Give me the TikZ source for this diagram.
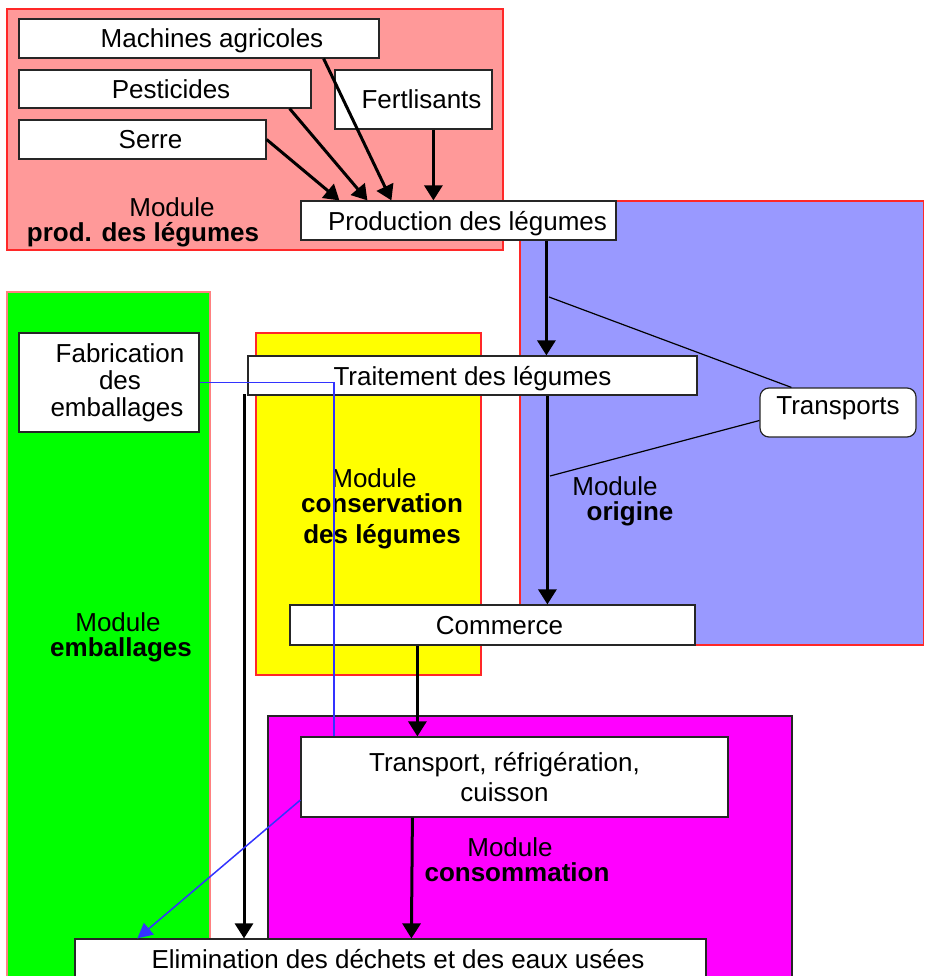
\documentclass[tikz,border=0pt]{standalone}
\usepackage{fontspec}
\setmainfont{Liberation Sans}
\usetikzlibrary{arrows.meta,calc}
\definecolor{pinkmod}{RGB}{255,153,153}
\definecolor{bluemod}{RGB}{153,153,255}
\definecolor{greenmod}{RGB}{0,255,0}
\definecolor{yellowmod}{RGB}{255,255,0}
\definecolor{magmod}{RGB}{255,0,255}
\definecolor{redline}{RGB}{255,40,40}
\definecolor{lightred}{RGB}{255,128,128}
\definecolor{bluelink}{RGB}{51,51,255}
\newcommand{\shx}[1]{\hspace*{#1}}
\begin{document}
\begin{tikzpicture}[x=1pt,y=-1pt,
  module/.style={line width=1.2pt},
  box/.style={draw=black!85, fill=white, line width=1.2pt, inner sep=0pt, align=center,
    font=\fontsize{26}{30}\selectfont},
  onebox/.style={box, text height=19pt, text depth=0pt},
  lbl/.style={inner sep=0pt, anchor=base, font=\fontsize{26}{30}\selectfont},
  blbl/.style={inner sep=0pt, anchor=base, font=\fontsize{26}{30}\selectfont\bfseries},
  arr/.style={line width=3pt, -{Triangle[length=15pt,width=18pt]}},
  thin/.style={line width=1.2pt},
  bluel/.style={draw=bluelink, line width=1.5pt}]
\useasboundingbox (0,0) rectangle (924,976);

% module backgrounds
\fill[pinkmod, draw=redline, module] (7,9) rectangle (503,250);
\fill[bluemod, draw=redline, module] (520,201) rectangle (923.5,645);
\fill[greenmod, draw=lightred, module] (7,292) rectangle (210,985);
\fill[yellowmod, draw=redline, module] (256,333) rectangle (481,675);
\fill[magmod, draw=black!85, module] (268,716) rectangle (792,985);

% module labels
\node[lbl] (lprod1) at (172,217) {Module};
\node[blbl] (lprod2) at (143,241) {prod. des légumes};
\node[lbl] (lorig1) at (615,495) {Module};
\node[blbl] (lorig2) at (630,520) {origine};
\node[lbl] (lcons1) at (374,487) {Module};
\node[blbl] (lcons2) at (382,512) {conservation};
\node[blbl] (lcons3) at (382,543) {des légumes};
\node[lbl] (lemb1) at (118,631) {Module};
\node[blbl] (lemb2) at (121,656) {emballages};
\node[lbl] (lcon1) at (510,856) {Module};
\node[blbl] (lcon2) at (517,881) {consommation};

% boxes
\node[onebox, minimum width=360pt, minimum height=39pt] (mach) at (199,38.5) {\shx{26pt}Machines agricoles};
\node[onebox, minimum width=292pt, minimum height=38pt] (pest) at (165,89) {\shx{12pt}Pesticides};
\node[onebox, minimum width=247pt, minimum height=39pt] (serre) at (142.5,139.5) {\shx{16pt}Serre};
\node[onebox, minimum width=157pt, minimum height=59pt] (fert) at (413.5,99.5) {\shx{16pt}Fertlisants};
\node[onebox, minimum width=315pt, minimum height=39pt] (prod) at (458.5,220.5) {\shx{18pt}Production des légumes};
\node[onebox, minimum width=449pt, minimum height=39pt] (trait) at (472.5,375.5) {Traitement des légumes};
\node[box, rounded corners=9pt, minimum width=156pt, minimum height=49pt, text height=19pt, text depth=16pt] (transports) at (838,412.5) {Transports};
\node[box, minimum width=180pt, minimum height=99pt, font=\fontsize{26}{27}\selectfont] (fab) at (109,382.5) {\shx{22pt}Fabrication\\\shx{22pt}des\\\shx{16pt}emballages};
\node[onebox, minimum width=405pt, minimum height=40pt] (comm) at (492.5,625) {\shx{14pt}Commerce};
\node[box, minimum width=427pt, minimum height=80pt] (transp) at (514.5,777) {\shx{-20pt}Transport, réfrigération,\\\shx{-20pt}cuisson};
\node[onebox, minimum width=631pt, minimum height=39pt] (elim) at (390.5,958.5) {\shx{15pt}Elimination des déchets et des eaux usées};

% inputs to production
\draw[arr] (serre.east) -- ($(prod.north west)+(39,0)$);
\draw[arr] ($(pest.south east)+(-22,0)$) -- ($(prod.north west)+(67,0)$);
\draw[arr] ($(mach.south east)+(-56,0)$) -- ($(prod.north west)+(91,0)$);
\draw[arr] ($(fert.south west)+(99,0)$) -- ($(prod.north west)+(133,0)$);

% main chain
\draw[arr] ($(prod.south west)+(246,0)$) -- ($(trait.north west)+(299,0)$);
\draw[arr] ($(trait.south west)+(300,0)$) -- ($(comm.north west)+(258,0)$);
\draw[arr] ($(comm.south west)+(128,0)$) -- ($(transp.north west)+(117,0)$);
\draw[arr] ($(transp.south west)+(112,0)$) -- ($(elim.north west)+(337,0)$);
\coordinate (wstart) at (244,394);
\draw[arr] (wstart) -- (wstart |- elim.north);

% transports links
\coordinate (t1) at (549,297);
\coordinate (t2) at (550,476);
\draw[thin] (t1) -- ($(transports.north west)+(32,0)$);
\draw[thin] ($(transports.west)+(0,8)$) -- (t2);

% packaging links (blue)
\draw[bluel] (fab.east) -- (fab.east -| 334,0) coordinate (bc) -- (bc |- transp.north);
\draw[bluel, -{Triangle[length=15pt,width=15pt]}] ($(transp.west)+(0,23)$) -- ($(elim.north west)+(63,0)$);
\end{tikzpicture}
\end{document}
